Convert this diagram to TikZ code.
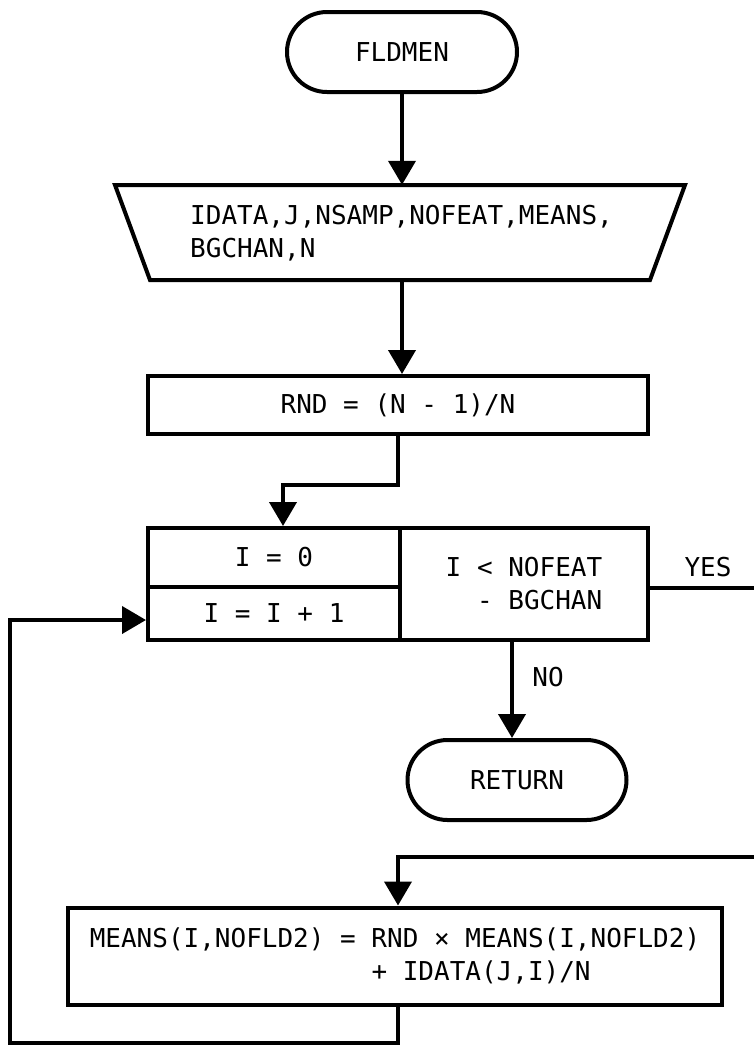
\documentclass[tikz,border=0pt]{standalone}
\usepackage{fontspec}
\setmonofont{DejaVu Sans Mono}
\usetikzlibrary{arrows.meta,calc}
\begin{document}
\begin{tikzpicture}[x=1pt,y=-1pt,
  every node/.style={font=\ttfamily\fontsize{26}{33}\selectfont, inner sep=0pt},
  ln/.style={line width=4pt},
  arr/.style={ln, -{Triangle[width=27pt,length=24pt]}},
  term/.style={draw, ln, rounded corners=40pt, minimum height=80pt},
  proc/.style={draw, ln}]
\useasboundingbox (0,0) rectangle (754,1045);

% terminal start
\node[term, minimum width=230pt] (start) at (402,52) {FLDMEN};

% manual input (trapezoid drawn directly around an invisible frame node)
\node[minimum width=500pt, minimum height=95pt] (inp) at (402,232.5) {};
\draw[ln] (115,185) -- (685,185) -- (650,280) -- (150,280) -- cycle;
\node[anchor=west, align=left] (inptext) at (190,233.5) {IDATA,J,NSAMP,NOFEAT,MEANS,\\BGCHAN,N};

% process
\node[proc, minimum width=500pt, minimum height=58pt] (rnd) at (398,405) {RND = (N - 1)/N};

% loop box
\node[proc, minimum width=252pt, minimum height=59pt] (init) at (274,557.5) {I = 0};
\node[proc, minimum width=252pt, minimum height=53pt] (incr) at (274,613.5) {I = I + 1};
\node[proc, minimum width=248pt, minimum height=112pt, align=left] (test) at (524,584)
  {I < NOFEAT\\\hphantom{MM}- BGCHAN};

% return
\node[term, minimum width=219pt] (ret) at (517,780) {RETURN};

% body
\node[proc, minimum width=654pt, minimum height=97pt, align=left] (means) at (395,956)
  {MEANS(I,NOFLD2) = RND × MEANS(I,NOFLD2)\\\hphantom{MEANS(I,NOFLD2) = }+ IDATA(J,I)/N};

% labels
\node (yes) at (708,567) {YES};
\node (no) at (548,677) {NO};

% free ends at the page edge
\coordinate (yesend) at (754,588);
\coordinate (backin) at (754,857);
\coordinate (loopbot) at (10,1043);

% connectors
\draw[arr] (start.south) -- (start.south |- inp.north);
\draw[arr] (inp.south) -- (inp.south |- rnd.north);
\draw[arr] (rnd.south -| test.west) -- ++(0,49) -| ([xshift=9pt]init.north);
\draw[ln] (test.east |- yesend) -- (yesend);
\draw[arr] ([xshift=-12pt]test.south) -- ([xshift=-12pt]test.south |- ret.north);
\draw[arr] (backin) -| ([xshift=3pt]means.north);
\draw[arr] ([xshift=3pt]means.south) |- (loopbot) |- ([yshift=-6.5pt]incr.west);
\end{tikzpicture}
\end{document}
